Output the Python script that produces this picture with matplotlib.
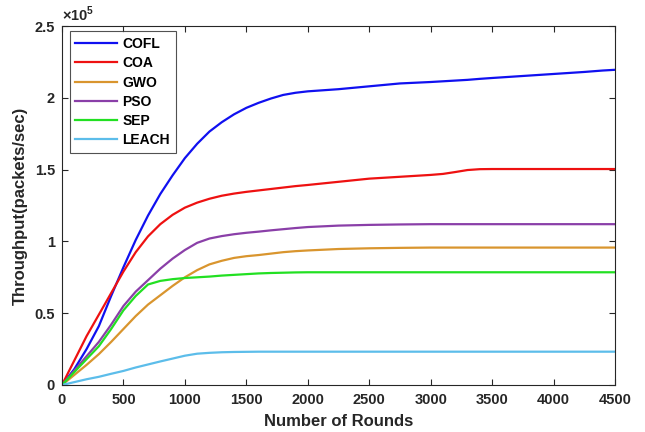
import matplotlib
matplotlib.use("Agg")
import matplotlib.pyplot as plt
from matplotlib.ticker import FuncFormatter, MultipleLocator

plt.rcParams['font.family'] = ['Liberation Sans', 'DejaVu Sans']
plt.rcParams['font.weight'] = 'bold'
plt.rcParams['mathtext.fontset'] = 'custom'
plt.rcParams['mathtext.rm'] = 'Liberation Sans'
plt.rcParams['mathtext.bf'] = 'Liberation Sans:bold'

SCALE = 1e5

rounds = [0, 100, 200, 300, 400, 500, 600, 700, 800, 900, 1000, 1100, 1200, 1300,
          1400, 1500, 1600, 1700, 1800, 1900, 2000, 2250, 2500, 2750, 3000, 3100,
          3200, 3300, 3400, 3500, 3750, 4000, 4250, 4400, 4500]

cofl = [0, 0.11, 0.25, 0.41, 0.62, 0.82, 1.01, 1.18, 1.33, 1.46, 1.58, 1.68, 1.765, 1.83,
        1.885, 1.93, 1.965, 1.995, 2.02, 2.035, 2.045, 2.06, 2.08, 2.10, 2.11, 2.115,
        2.12, 2.125, 2.132, 2.138, 2.152, 2.166, 2.18, 2.19, 2.195]

coa = [0, 0.17, 0.34, 0.49, 0.64, 0.79, 0.925, 1.035, 1.12, 1.185, 1.235, 1.27, 1.297, 1.318,
       1.333, 1.345, 1.355, 1.365, 1.375, 1.385, 1.393, 1.415, 1.437, 1.45, 1.463, 1.47,
       1.483, 1.497, 1.503, 1.504, 1.504, 1.504, 1.504, 1.504, 1.504]

gwo = [0, 0.07, 0.14, 0.215, 0.30, 0.39, 0.48, 0.56, 0.625, 0.69, 0.75, 0.80, 0.84, 0.865,
       0.885, 0.897, 0.905, 0.915, 0.925, 0.932, 0.937, 0.947, 0.952, 0.955, 0.957, 0.957,
       0.957, 0.957, 0.957, 0.957, 0.957, 0.957, 0.957, 0.957, 0.957]

pso = [0, 0.10, 0.20, 0.30, 0.42, 0.55, 0.65, 0.73, 0.81, 0.88, 0.94, 0.99, 1.02, 1.037,
       1.05, 1.06, 1.068, 1.077, 1.085, 1.093, 1.10, 1.11, 1.115, 1.118, 1.12, 1.12,
       1.12, 1.12, 1.12, 1.12, 1.12, 1.12, 1.12, 1.12, 1.12]

sep = [0, 0.09, 0.18, 0.27, 0.39, 0.52, 0.62, 0.70, 0.725, 0.737, 0.745, 0.75, 0.755, 0.762,
       0.767, 0.772, 0.777, 0.78, 0.782, 0.784, 0.785, 0.785, 0.785, 0.785, 0.785, 0.785,
       0.785, 0.785, 0.785, 0.785, 0.785, 0.785, 0.785, 0.785, 0.785]

leach = [0, 0.02, 0.04, 0.057, 0.078, 0.098, 0.122, 0.143, 0.164, 0.184, 0.204, 0.218, 0.224, 0.228,
         0.23, 0.231, 0.232, 0.232, 0.232, 0.232, 0.232, 0.232, 0.232, 0.232, 0.232, 0.232,
         0.232, 0.232, 0.232, 0.232, 0.232, 0.232, 0.232, 0.232, 0.232]

series = [
    ("COFL", cofl, "#1010F0"),
    ("COA", coa, "#EE1111"),
    ("GWO", gwo, "#D9952E"),
    ("PSO", pso, "#8A3FA8"),
    ("SEP", sep, "#22E022"),
    ("LEACH", leach, "#5CBDEA"),
]

fig = plt.figure(figsize=(6.45, 4.32), dpi=100)
ax = fig.add_axes([0.0961, 0.1088, 0.8574, 0.8310])

for name, vals, col in series:
    ax.plot(rounds, [v * SCALE for v in vals], color=col, lw=1.6, label=name,
            solid_joinstyle='round')

ax.set_xlim(0, 4500)
ax.set_ylim(0, 2.5 * SCALE)
ax.xaxis.set_major_locator(MultipleLocator(500))
ax.yaxis.set_major_locator(MultipleLocator(0.5 * SCALE))
ax.yaxis.set_major_formatter(FuncFormatter(lambda v, p: f"{v / SCALE:g}"))

ax.tick_params(direction='in', top=True, right=True, length=4, width=0.8,
               colors='#262626', labelsize=10.5)
ax.tick_params(axis='x', pad=6)
ax.tick_params(axis='y', pad=5)
for lab in ax.get_xticklabels() + ax.get_yticklabels():
    lab.set_fontweight('bold')
for sp in ax.spines.values():
    sp.set_color('#262626')
    sp.set_linewidth(0.8)

ax.text(0.0, 1.005, r"$\times$10$^{5}$", transform=ax.transAxes, fontsize=10.5,
        fontweight='bold', color='#262626', ha='left', va='bottom')

ax.set_xlabel("Number of Rounds", fontsize=12, fontweight='bold', color='#262626', labelpad=5)
ax.set_ylabel("Throughput(packets/sec)", fontsize=12, fontweight='bold', color='#262626', labelpad=5)

leg = ax.legend(loc='upper left', bbox_to_anchor=(0.014, 0.985),
                prop={'weight': 'bold', 'size': 10}, frameon=True, fancybox=False,
                edgecolor='#262626', handlelength=3.0, handletextpad=0.4,
                labelspacing=0.38, borderpad=0.4, borderaxespad=0.0)
leg.get_frame().set_linewidth(0.8)

fig.savefig("out.png", dpi=100)
